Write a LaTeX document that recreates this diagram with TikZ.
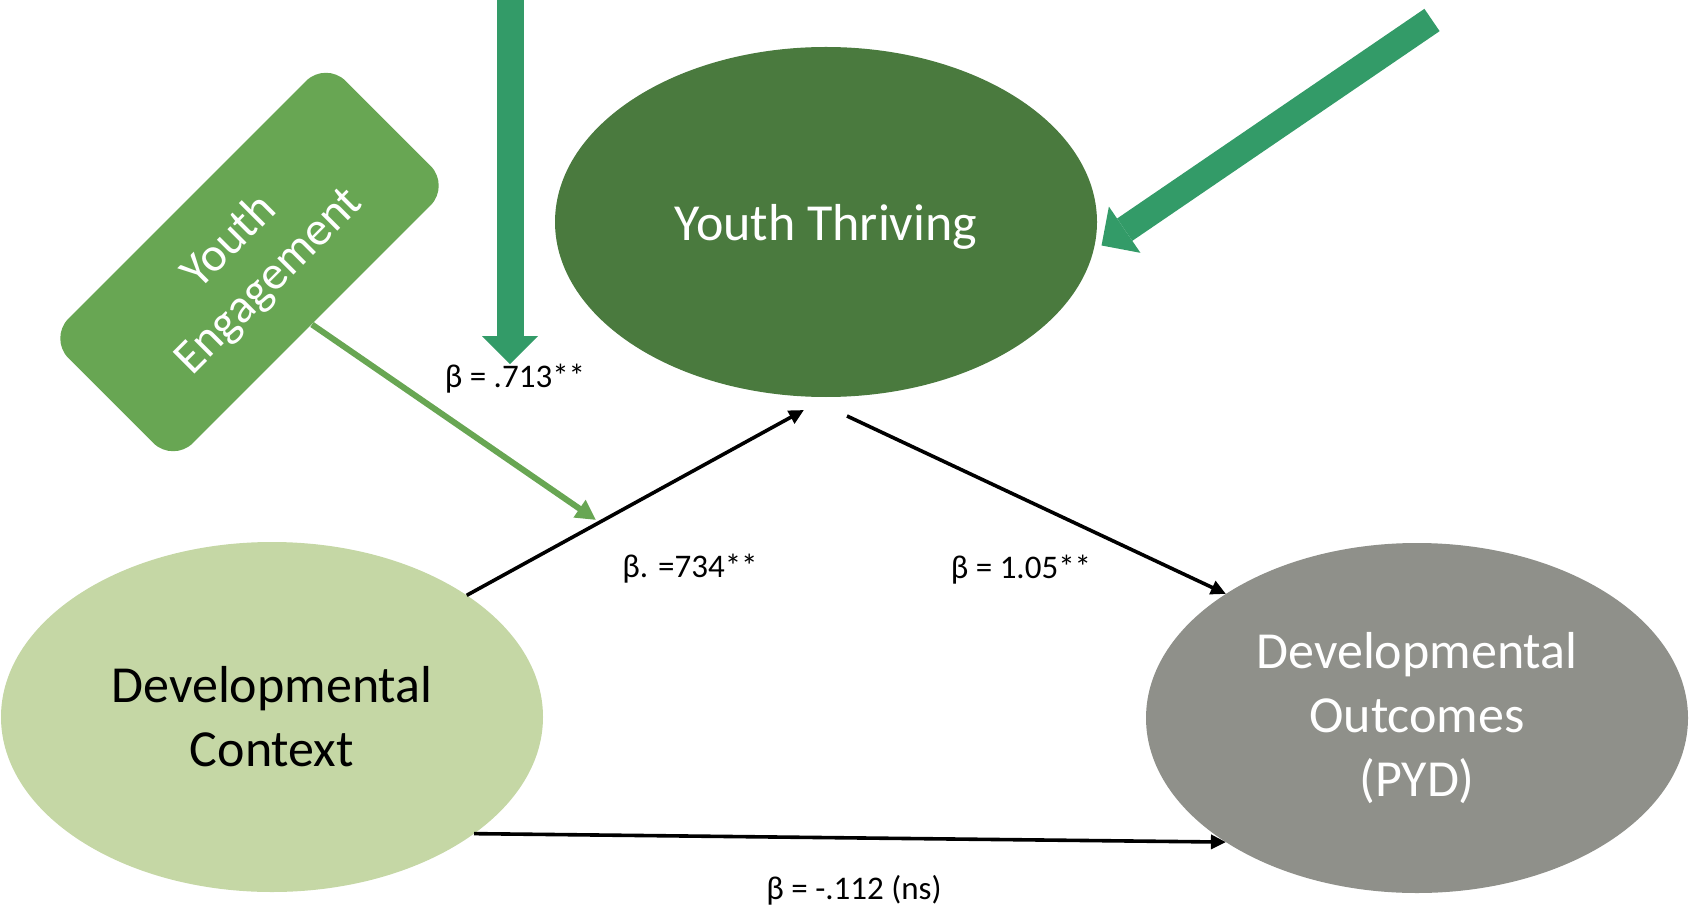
\documentclass[tikz,border=0pt]{standalone}
\usepackage{fontspec}
\setmainfont{Carlito}
\usetikzlibrary{arrows.meta,shapes.geometric}

\definecolor{thriveGreen}{HTML}{4A7A3E}
\definecolor{engageGreen}{HTML}{68A653}
\definecolor{contextGreen}{HTML}{C5D7A5}
\definecolor{outcomeGray}{HTML}{8F908A}
\definecolor{inputGreen}{HTML}{339B68}

\begin{document}
\begin{tikzpicture}[x=0.5pt,y=-0.5pt,
						construct/.style={
							ellipse,
							inner sep=0pt, outer sep=0pt,
							minimum width=271pt,
							minimum height=175pt,
							align=center,
							font=\fontsize{26}{32}\selectfont
						},
						engagebox/.style={
							rectangle,
							rounded corners=14pt,
							fill=engageGreen, text=white,
							minimum width=196pt,
							minimum height=88pt,
							align=center,
							font=\fontsize{24}{28}\selectfont
						},
						coef/.style={inner sep=0pt, font=\fontsize{16.5}{20}\selectfont},
						link/.style={-{Triangle[length=7.5pt,width=7pt]}, line width=1.8pt},
						modlink/.style={-{Triangle[length=10pt,width=10pt]}, line width=3pt, draw=engageGreen},
						biglink/.style={-{Triangle[length=14pt,width=28pt,line width=0pt]}, line width=13.5pt, draw=inputGreen}]

	\useasboundingbox (0,0) rectangle (1690,914);

	% The three constructs of the model
	\node [construct, fill=thriveGreen, text=white, text depth=0pt] (thriving) at (826,222) {Youth Thriving};
	\node [construct, fill=contextGreen] (context) at (272,717) {Developmental\\Context};
	\node [construct, fill=outcomeGray, text=white] (outcomes) at (1417,718) {Developmental\\Outcomes\\(PYD)};

	% Moderator box
	\node [engagebox, rotate=45] (engagement) at (249.5,262) {Youth\\Engagement};

	% Coefficients
	\node [coef] (b713) at (515,379) {β = .713**};
	\node [coef] (b734) at (690,569) {β. =734**};
	\node [coef] (b105) at (1021,570) {β = 1.05**};
	\node [coef] (b112) at (854,890) {β = -.112 (ns)};

	% Paths between the constructs
	\draw [link] (context.32) -- ([xshift=-11pt,yshift=-6.5pt]thriving.south);
	\draw [link] ([xshift=10.5pt,yshift=-9.5pt]thriving.south) -- (outcomes.147);
	\draw [link] (context.-30) -- (outcomes.213);

	%% Moderation arrow onto the context -> thriving path
	\coordinate (moderate) at (596,520);
	\draw [modlink] (engagement.south) -- (moderate);

	%% Big arrows coming in from the top
	\coordinate (topin) at (510,-10);
	\coordinate (rightin) at (1432,20);
	\draw [biglink] (topin) -- (topin |- b713.north);
	\draw [biglink] (rightin) -- ([xshift=3.5pt]thriving.-5);
\end{tikzpicture}
\end{document}
